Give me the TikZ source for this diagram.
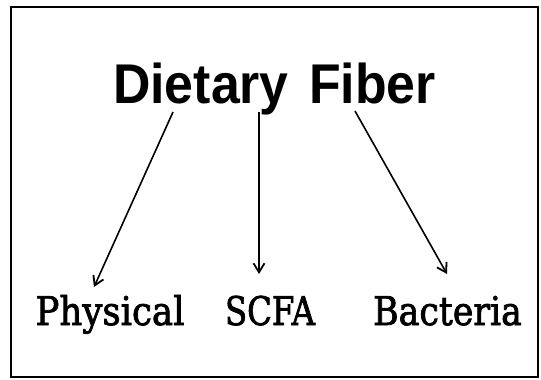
\documentclass[tikz,border=0pt]{standalone}
\usepackage{fontspec}
\setmainfont{DejaVu Serif}
\newfontfamily\labelfont{DejaVu Serif}[FakeBold=2]
\newfontfamily\titlefont{Liberation Sans Bold}
\usetikzlibrary{arrows.meta}
\newcommand{\squeeze}[2]{\scalebox{#1}[1]{#2}}
\begin{document}
\begin{tikzpicture}[x=1pt,y=1pt,
  frame/.style={draw=black,line width=2pt},
  titlestyle/.style={inner sep=0pt,anchor=base,font=\titlefont\fontsize{56}{62}\selectfont},
  labelstyle/.style={inner sep=0pt,anchor=base,font=\labelfont\fontsize{39.5}{44}\selectfont},
  arr/.style={line width=1.6pt,-{Straight Barb[length=9pt,width=11pt,line width=1.8pt]}}]
\useasboundingbox (0,0) rectangle (541,-380);
\draw[frame] (11,-7) rectangle (538,-377);
\node[titlestyle] (title) at (274.5,-103) {\squeeze{0.925}{Dietary\hspace{22pt}Fiber}};
\node[labelstyle] (phys) at (110,-325) {\squeeze{0.9}{Physical}};
\node[labelstyle] (scfa) at (270,-325) {\squeeze{0.82}{SCFA}};
\node[labelstyle] (bact) at (447.5,-325) {\squeeze{0.88}{Bacteria}};
\draw[arr] ([shift={(-101.5,-9)}]title.base) -- ([shift={(-16,38)}]phys.base);
\draw[arr] ([shift={(-15.5,-9)}]title.base) -- ([shift={(-11,51)}]scfa.base);
\draw[arr] ([shift={(80.5,-8)}]title.base) -- ([shift={(-0.5,51)}]bact.base);
\end{tikzpicture}
\end{document}
